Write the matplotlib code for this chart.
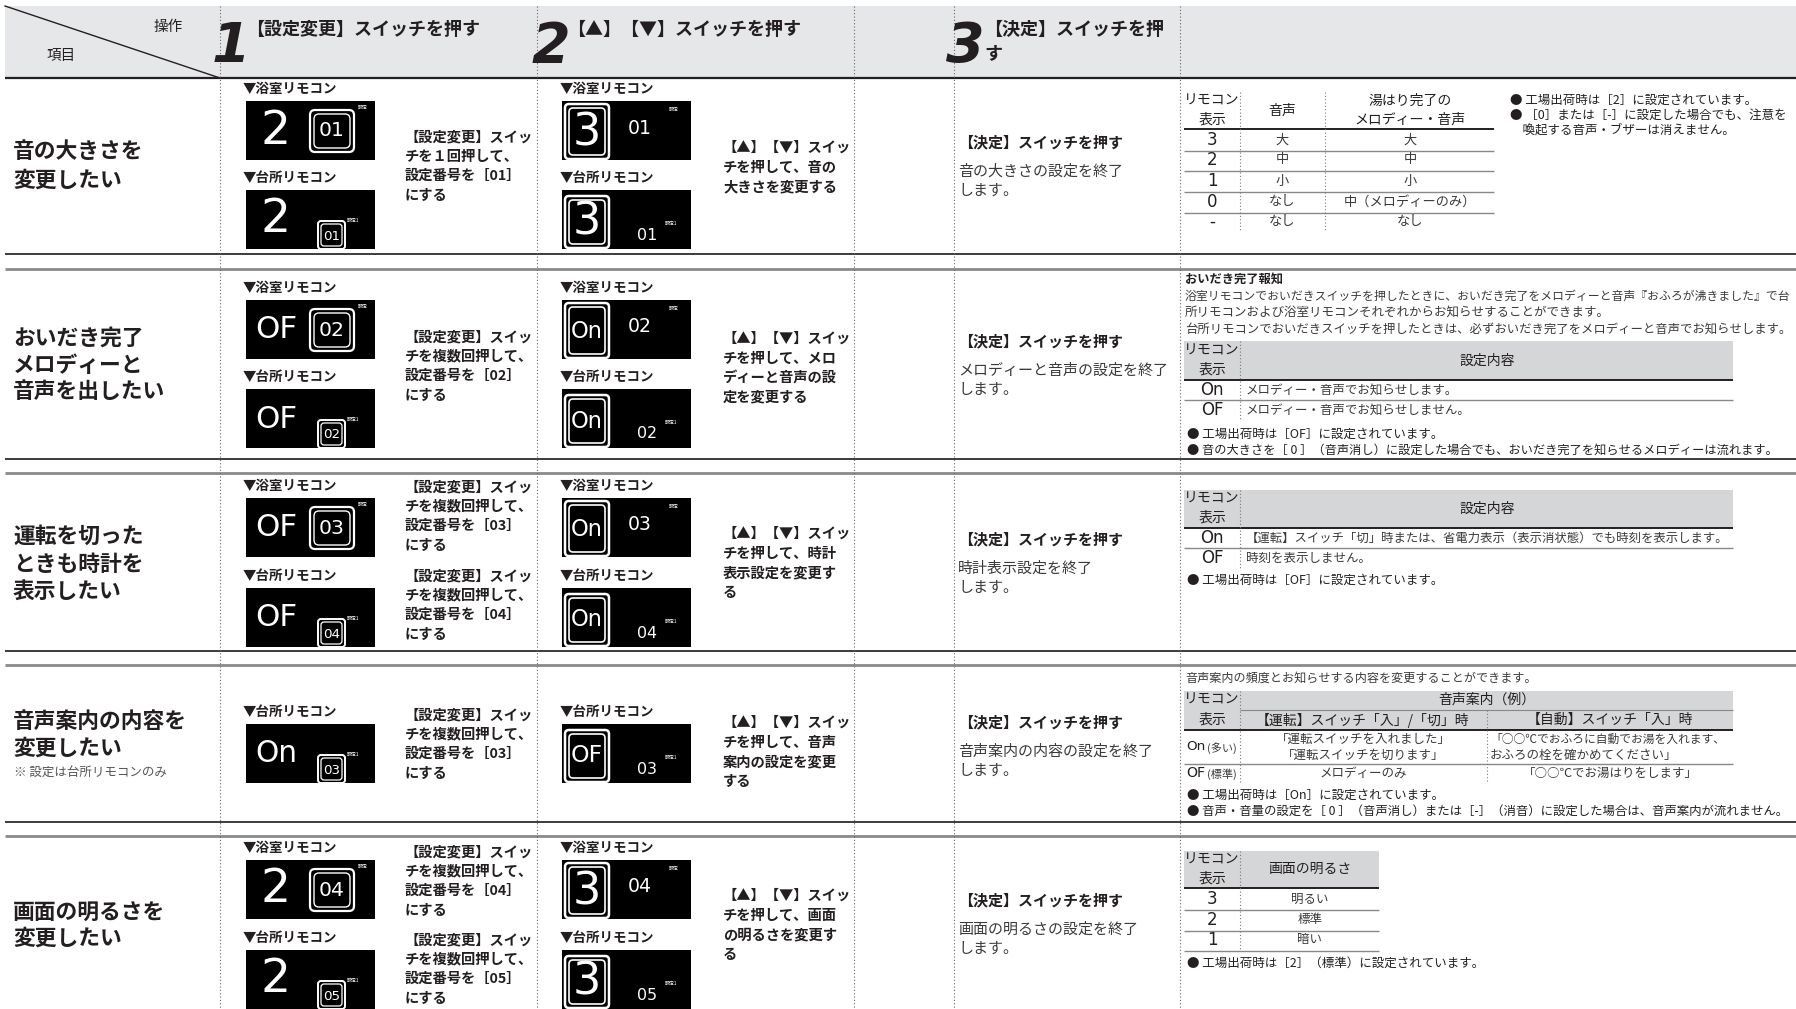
import matplotlib
matplotlib.use("Agg")
import matplotlib.pyplot as plt
from matplotlib.patches import Rectangle, FancyBboxPatch

plt.rcParams['font.family'] = ['Noto Sans CJK JP', 'DejaVu Sans']

# ---------------- data (texts) ----------------
HEADER_OPS = "操作"
HEADER_ITEMS = "項目"
STEP_NUMS = ["1", "2", "3"]
STEP_TITLES = [["【設定変更】スイッチを押す"], ["【▲】【▼】スイッチを押す"], ["【決定】スイッチを押", "す"]]

ROW_TITLES = [["音の大きさを", "変更したい"],
              ["おいだき完了", "メロディーと", "音声を出したい"],
              ["運転を切った", "ときも時計を", "表示したい"],
              ["音声案内の内容を", "変更したい"],
              ["画面の明るさを", "変更したい"]]
ROW_NOTE = "※ 設定は台所リモコンのみ"

BATH = "▼浴室リモコン"
KITCHEN = "▼台所リモコン"

S1_BATH_BIG = ["2", "OF", "OF", None, "2"]
S1_BATH_NO = ["01", "02", "03", None, "04"]
S1_KIT_BIG = ["2", "OF", "OF", "On", "2"]
S1_KIT_NO = ["01", "02", "04", "03", "05"]
S2_BATH_BIG = ["3", "On", "On", None, "3"]
S2_BATH_NO = ["01", "02", "03", None, "04"]
S2_KIT_BIG = ["3", "On", "On", "OF", "3"]
S2_KIT_NO = ["01", "02", "04", "03", "05"]

S1_TEXT = [[["【設定変更】スイッ", "チを１回押して、", "設定番号を［01］", "にする"]],
           [["【設定変更】スイッ", "チを複数回押して、", "設定番号を［02］", "にする"]],
           [["【設定変更】スイッ", "チを複数回押して、", "設定番号を［03］", "にする"],
            ["【設定変更】スイッ", "チを複数回押して、", "設定番号を［04］", "にする"]],
           [["【設定変更】スイッ", "チを複数回押して、", "設定番号を［03］", "にする"]],
           [["【設定変更】スイッ", "チを複数回押して、", "設定番号を［04］", "にする"],
            ["【設定変更】スイッ", "チを複数回押して、", "設定番号を［05］", "にする"]]]
S2_TEXT = [["【▲】【▼】スイッ", "チを押して、音の", "大きさを変更する"],
           ["【▲】【▼】スイッ", "チを押して、メロ", "ディーと音声の設", "定を変更する"],
           ["【▲】【▼】スイッ", "チを押して、時計", "表示設定を変更す", "る"],
           ["【▲】【▼】スイッ", "チを押して、音声", "案内の設定を変更", "する"],
           ["【▲】【▼】スイッ", "チを押して、画面", "の明るさを変更す", "る"]]
S3_TITLE = "【決定】スイッチを押す"
S3_TEXT = [["音の大きさの設定を終了", "します。"],
           ["メロディーと音声の設定を終了", "します。"],
           ["時計表示設定を終了", "します。"],
           ["音声案内の内容の設定を終了", "します。"],
           ["画面の明るさの設定を終了", "します。"]]

# table 1 : volume
T1_HEAD = [["リモコン", "表示"], ["音声"], ["湯はり完了の", "メロディー・音声"]]
T1_CODE = ["3", "2", "1", "0", "-"]
T1_VOICE = ["大", "中", "小", "なし", "なし"]
T1_MELODY = ["大", "中", "小", "中（メロディーのみ）", "なし"]
T1_NOTES = ["● 工場出荷時は［2］に設定されています。",
            "● ［0］または［-］に設定した場合でも、注意を",
            "　喚起する音声・ブザーは消えません。"]

# table 2 : oidaki
T2_TITLE = "おいだき完了報知"
T2_PARA = ["浴室リモコンでおいだきスイッチを押したときに、おいだき完了をメロディーと音声『おふろが沸きました』で台",
           "所リモコンおよび浴室リモコンそれぞれからお知らせすることができます。",
           "台所リモコンでおいだきスイッチを押したときは、必ずおいだき完了をメロディーと音声でお知らせします。"]
T2_HEAD = ["設定内容"]
T2_CODE = ["On", "OF"]
T2_DESC = ["メロディー・音声でお知らせします。", "メロディー・音声でお知らせしません。"]
T2_NOTES = ["● 工場出荷時は［OF］に設定されています。",
            "● 音の大きさを［ 0 ］（音声消し）に設定した場合でも、おいだき完了を知らせるメロディーは流れます。"]

# table 3 : clock
T3_CODE = ["On", "OF"]
T3_DESC = ["【運転】スイッチ「切」時または、省電力表示（表示消状態）でも時刻を表示します。", "時刻を表示しません。"]
T3_NOTES = ["● 工場出荷時は［OF］に設定されています。"]

# table 4 : voice guide
T4_INTRO = "音声案内の頻度とお知らせする内容を変更することができます。"
T4_HEAD_TOP = "音声案内（例）"
T4_HEAD_SUB = ["【運転】スイッチ「入」/「切」時", "【自動】スイッチ「入」時"]
T4_CODE = ["On", "OF"]
T4_CODE_NOTE = ["(多い)", "(標準)"]
T4_COL2 = [["「運転スイッチを入れました」", "「運転スイッチを切ります」"], ["メロディーのみ"]]
T4_COL3 = [["「○○℃でおふろに自動でお湯を入れます、", "おふろの栓を確かめてください」"], ["「○○℃でお湯はりをします」"]]
T4_NOTES = ["● 工場出荷時は［On］に設定されています。",
            "● 音声・音量の設定を［ 0 ］（音声消し）または［-］（消音）に設定した場合は、音声案内が流れません。"]

# table 5 : brightness
T5_HEAD = "画面の明るさ"
T5_CODE = ["3", "2", "1"]
T5_DESC = ["明るい", "標準", "暗い"]
T5_NOTES = ["● 工場出荷時は［2］（標準）に設定されています。"]

# ---------------- layout ----------------
W, H = 1796, 1009
fig = plt.figure(figsize=(W / 100, H / 100), dpi=100)
ax = fig.add_axes([0, 0, 1, 1])
ax.set_xlim(0, W)
ax.set_ylim(H, 0)
ax.axis('off')
renderer = fig.canvas.get_renderer()

DARK = '#231f20'
GRAYTXT = '#3a3a3a'
SEG = dict(family=['DejaVu Sans'])


def T(x, y, s, size=10, weight='normal', color=DARK, ha='left', va='center', maxw=None, **kw):
    t = ax.text(x, y, s, fontsize=size, fontweight=weight, color=color, ha=ha, va=va, **kw)
    if maxw is not None:
        w = t.get_window_extent(renderer).width
        if w > maxw:
            t.set_fontsize(size * maxw / w)
    return t


def hline(y, x0, x1, color=DARK, lw=1.0, ls='-'):
    ax.plot([x0, x1], [y, y], color=color, lw=lw, ls=ls, solid_capstyle='butt')


def vline(x, y0, y1, color='#666666', lw=0.8, ls=(0, (1, 2))):
    ax.plot([x, x], [y0, y1], color=color, lw=lw, ls=ls)


# header
ax.add_patch(Rectangle((5, 6), W - 5, 72, facecolor='#e6e7e9', edgecolor='none'))
ax.plot([5, 220], [6, 78], color=DARK, lw=1.0)
T(168, 27, HEADER_OPS, 10.5, ha='center')
T(61, 56, HEADER_ITEMS, 10.5, ha='center')
num_right = [250, 570, 985]
title_x = [246, 567, 984]
for i in range(3):
    T(num_right[i], 47, STEP_NUMS[i], 40, weight='bold', style='italic', ha='right', **SEG)
    for j, line in enumerate(STEP_TITLES[i]):
        T(title_x[i], 29 + 25 * j, line, 13, weight='bold')

hline(78, 5, W, DARK, 1.6)

# row separators
SEPS = [(254, 269), (459, 473), (651, 665), (822, 836)]
for a, b in SEPS:
    hline(a, 5, W, '#3c3c3c', 1.4)
    hline(b, 5, W, '#8a8a8a', 2.0)

# dotted column dividers
for x in [220, 537, 854, 954, 1180]:
    vline(x, 6, H)

# row titles
TITLE_Y = [[152, 180], [338, 365, 392], [536, 564, 591], [722, 748], [912, 938]]
for r, lines in enumerate(ROW_TITLES):
    for j, line in enumerate(lines):
        T(13, TITLE_Y[r][j], line, 15.7, weight='bold')
T(14, 772, ROW_NOTE, 9, color='#555555')


# LCD displays
def frame(x, y, w, h, insets, r):
    for ins, lw in insets:
        ax.add_patch(FancyBboxPatch((x + ins, y + ins), w - 2 * ins, h - 2 * ins,
                                    boxstyle='round,pad=0,rounding_size=%g' % r, facecolor='black',
                                    edgecolor='white', lw=lw, zorder=3))


def lcd(x0, y0, big, num, step, kitchen):
    ax.add_patch(Rectangle((x0, y0), 129, 59, facecolor='black', edgecolor='none', zorder=2))
    if step == 1:
        T(x0 + 30, y0 + 30, big, 34, color='white', ha='center', zorder=4, maxw=42, **SEG)
        if not kitchen:
            frame(x0 + 64, y0 + 9, 44, 42, [(0, 1.6), (4, 1.0)], 5)
            T(x0 + 86, y0 + 30, num, 15, color='white', ha='center', zorder=4, maxw=26, **SEG)
            T(x0 + 117, y0 + 6, "設定", 3.5, color='white', ha='center')
        else:
            frame(x0 + 72, y0 + 31, 27, 28, [(0, 1.4), (3, 0.9)], 3)
            T(x0 + 85.5, y0 + 46, num, 11, color='white', ha='center', zorder=4, maxw=17, **SEG)
            T(x0 + 101, y0 + 30, "設定1", 3.5, color='white', ha='left')
    else:
        top = y0 + 3 if not kitchen else y0 + 6
        frame(x0 + 3, top, 44, y0 + 58 - top, [(0, 1.8), (4, 1.2)], 4)
        T(x0 + 25, y0 + 32, big, 32, color='white', ha='center', zorder=4, maxw=32, **SEG)
        if not kitchen:
            T(x0 + 78, y0 + 27, num, 15, color='white', ha='center', zorder=4, maxw=24, **SEG)
            T(x0 + 112, y0 + 8, "設定", 3.5, color='white', ha='center')
        else:
            T(x0 + 85, y0 + 45, num, 13, color='white', ha='center', zorder=4, maxw=20, **SEG)
            T(x0 + 103, y0 + 33, "設定1", 3.5, color='white', ha='left')


BATH_Y = [101, 300, 498, None, 860]
KIT_Y = [190, 389, 588, 724, 950]
for r in range(5):
    if BATH_Y[r] is not None:
        T(243, BATH_Y[r] - 12, BATH, 9.7, weight='bold')
        T(560, BATH_Y[r] - 12, BATH, 9.7, weight='bold')
        lcd(246, BATH_Y[r], S1_BATH_BIG[r], S1_BATH_NO[r], 1, False)
        lcd(562, BATH_Y[r], S2_BATH_BIG[r], S2_BATH_NO[r], 2, False)
    T(243, KIT_Y[r] - 12, KITCHEN, 9.7, weight='bold')
    T(560, KIT_Y[r] - 12, KITCHEN, 9.7, weight='bold')
    lcd(246, KIT_Y[r], S1_KIT_BIG[r], S1_KIT_NO[r], 1, True)
    lcd(562, KIT_Y[r], S2_KIT_BIG[r], S2_KIT_NO[r], 2, True)

# step 1 texts
S1_Y = [[137], [337], [487, 576], [715], [852, 940]]
for r in range(5):
    for b, block in enumerate(S1_TEXT[r]):
        for j, line in enumerate(block):
            T(405, S1_Y[r][b] + 19.5 * j, line, 10.3, weight='bold')

# step 2 texts
S2_Y = [148, 339, 534, 723, 896]
for r in range(5):
    for j, line in enumerate(S2_TEXT[r]):
        T(723, S2_Y[r] + 19.5 * j, line, 10.3, weight='bold')

# step 3 texts
S3_Y = [142, 341, 539, 722, 900]
for r in range(5):
    T(958, S3_Y[r], S3_TITLE, 10.8, weight='bold')
    for j, line in enumerate(S3_TEXT[r]):
        T(958, S3_Y[r] + 30 + 19 * j, line, 10.8, color=GRAYTXT)

RS = 9.0  # right side font size
VC = '#777777'

# ---- table 1
c = [1184, 1240, 1325, 1494]
T(1212, 101, T1_HEAD[0][0], 10, ha='center')
T(1212, 120, T1_HEAD[0][1], 10, ha='center')
T(1282, 111, T1_HEAD[1][0], 10, ha='center')
T(1410, 101, T1_HEAD[2][0], 10, ha='center')
T(1410, 120, T1_HEAD[2][1], 10, ha='center')
hline(129, c[0], c[3], DARK, 1.4)
rowy = [140, 160, 181, 202, 222]
for i in range(5):
    T(1212, rowy[i], T1_CODE[i], 12, ha='center', **SEG)
    T(1282, rowy[i], T1_VOICE[i], RS + 0.5, ha='center', color=GRAYTXT)
    T(1410, rowy[i], T1_MELODY[i], RS + 0.5, ha='center', color=GRAYTXT)
    if i < 4:
        hline(rowy[i] + 10.5, c[0], c[3], '#888888', 1.0)
vline(c[1], 92, 232, VC)
vline(c[2], 92, 232, VC)
for j, line in enumerate(T1_NOTES):
    T(1510, 100 + 15 * j, line, RS, maxw=282)

# ---- table 2
T(1185, 279, T2_TITLE, 8.8, weight='bold')
for j, line in enumerate(T2_PARA):
    T(1185, 296 + 16.5 * j, line, RS, color=GRAYTXT, maxw=604)
ax.add_patch(Rectangle((1184, 341), 549, 39, facecolor='#d5d6d8', edgecolor='none'))
T(1212, 351, "リモコン", 10, ha='center')
T(1212, 370, "表示", 10, ha='center')
T(1487, 361, T2_HEAD[0], 10, ha='center')
hline(380, 1184, 1733, DARK, 1.4)
for i, yy in enumerate([390, 410]):
    T(1212, yy, T2_CODE[i], 12, ha='center', **SEG)
    T(1246, yy, T2_DESC[i], RS, color=GRAYTXT)
hline(400, 1184, 1733, '#888888', 1.0)
vline(1240, 341, 420, VC)
for j, line in enumerate(T2_NOTES):
    T(1187, 434 + 16 * j, line, RS, maxw=590)

# ---- table 3
ax.add_patch(Rectangle((1184, 490), 549, 38, facecolor='#d5d6d8', edgecolor='none'))
T(1212, 499, "リモコン", 10, ha='center')
T(1212, 518, "表示", 10, ha='center')
T(1487, 509, T2_HEAD[0], 10, ha='center')
hline(528, 1184, 1733, DARK, 1.4)
for i, yy in enumerate([538, 558]):
    T(1212, yy, T3_CODE[i], 12, ha='center', **SEG)
    T(1246, yy, T3_DESC[i], RS, color=GRAYTXT, maxw=482)
hline(548, 1184, 1733, '#888888', 1.0)
vline(1240, 490, 568, VC)
for j, line in enumerate(T3_NOTES):
    T(1187, 580 + 16 * j, line, RS)

# ---- table 4
T(1185, 678, T4_INTRO, RS - 0.3, color=GRAYTXT)
ax.add_patch(Rectangle((1184, 691), 549, 39, facecolor='#d5d6d8', edgecolor='none'))
T(1212, 700, "リモコン", 10, ha='center')
T(1212, 720, "表示", 10, ha='center')
T(1487, 700, T4_HEAD_TOP, 10, ha='center')
hline(710, 1240, 1733, '#888888', 0.8)
T(1363, 720, T4_HEAD_SUB[0], 10, ha='center')
T(1610, 720, T4_HEAD_SUB[1], 10, ha='center')
hline(730, 1184, 1733, DARK, 1.4)
code_y = [747, 773]
for i in range(2):
    T(1186, code_y[i], T4_CODE[i], 12, maxw=19, **SEG)
    T(1207, code_y[i] + 1, T4_CODE_NOTE[i], 8, color=GRAYTXT, maxw=31)
for j, line in enumerate(T4_COL2[0]):
    T(1363, 739 + 16 * j, line, RS, ha='center', color=GRAYTXT)
for j, line in enumerate(T4_COL3[0]):
    T(1490, 739 + 16 * j, line, RS, color=GRAYTXT, maxw=236)
T(1363, 773, T4_COL2[1][0], RS, ha='center', color=GRAYTXT)
T(1610, 773, T4_COL3[1][0], RS, ha='center', color=GRAYTXT)
hline(764, 1184, 1733, '#888888', 1.0)
vline(1240, 691, 783, VC)
vline(1487, 710, 783, VC)
for j, line in enumerate(T4_NOTES):
    T(1187, 795 + 16 * j, line, RS, maxw=604)

# ---- table 5
ax.add_patch(Rectangle((1184, 851), 195, 37, facecolor='#d5d6d8', edgecolor='none'))
T(1212, 860, "リモコン", 10, ha='center')
T(1212, 879, "表示", 10, ha='center')
T(1310, 869, T5_HEAD, 10, ha='center')
hline(888, 1184, 1379, DARK, 1.4)
ry = [899, 920, 940]
for i in range(3):
    T(1212, ry[i], T5_CODE[i], 12, ha='center', **SEG)
    T(1310, ry[i], T5_DESC[i], RS, ha='center', color=GRAYTXT)
    hline(ry[i] + 10.5, 1184, 1379, '#888888', 1.0)
vline(1240, 851, 951, VC)
for j, line in enumerate(T5_NOTES):
    T(1187, 963 + 16 * j, line, RS)

fig.savefig("out.png", dpi=100, facecolor='white')
